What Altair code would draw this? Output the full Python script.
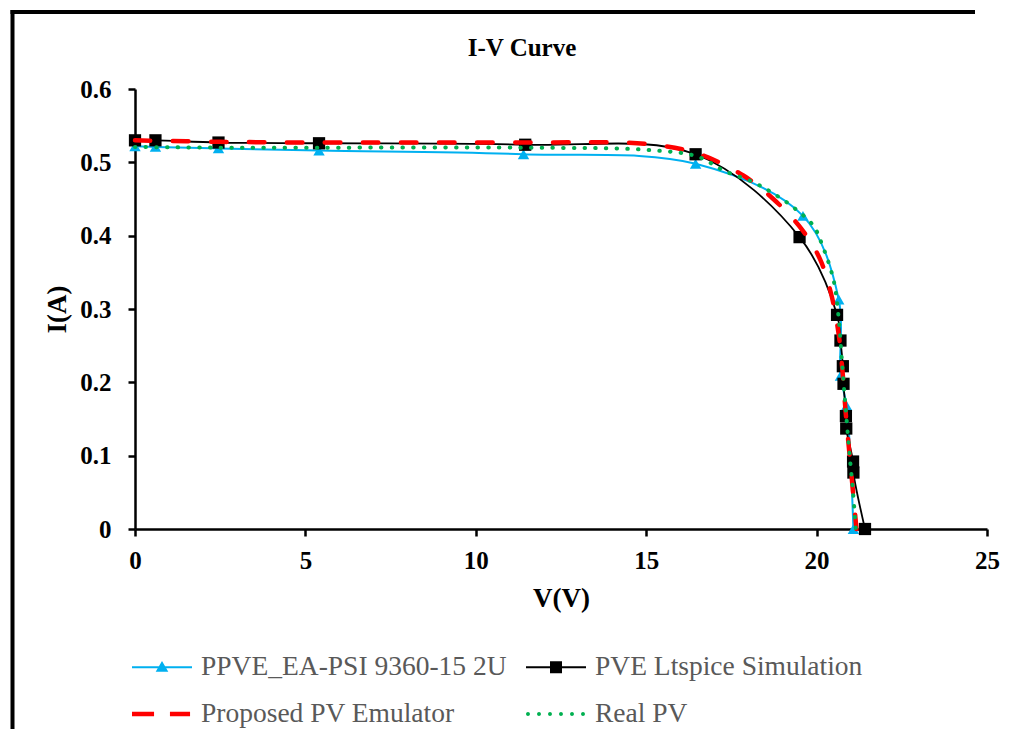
import altair as alt
import pandas as pd

# ---- series names ----
S_BLUE = "PPVE_EA-PSI 9360-15 2U"
S_BLACK = "PVE Ltspice Simulation"
S_RED = "Proposed PV Emulator"
S_GREEN = "Real PV"
series_names = [S_BLUE, S_BLACK, S_RED, S_GREEN]
series_colors = ["#00B0F0", "#000000", "#FF0000", "#00B050"]

# ---- data ----
blue_v = [0.0, 0.6, 2.45, 5.4, 11.4, 16.45, 19.6, 20.65, 20.7, 20.88, 21.08]
blue_i = [0.522, 0.521, 0.519, 0.516, 0.511, 0.498, 0.427, 0.313, 0.209, 0.168, 0.0]

black_v = [0.0, 0.6, 2.45, 5.4, 11.45, 16.45, 19.5, 20.6, 20.7, 20.77, 20.79, 20.86, 20.87, 21.07, 21.08, 21.42]
black_i = [0.530, 0.530, 0.527, 0.526, 0.524, 0.511, 0.398, 0.292, 0.257, 0.222, 0.198, 0.154, 0.137, 0.092, 0.077, 0.0]

red_v = [0.0, 2.5, 5.4, 11.4, 15.0, 16.5, 17.85, 18.73, 19.56, 20.1, 20.44, 20.65, 20.76, 20.86, 20.98, 21.08, 21.17]
red_i = [0.530, 0.528, 0.527, 0.527, 0.525, 0.512, 0.482, 0.450, 0.409, 0.368, 0.318, 0.265, 0.215, 0.155, 0.095, 0.045, 0.0]

green_v = [0.0, 2.5, 5.4, 11.4, 15.0, 16.5, 17.26, 18.14, 18.68, 19.31, 19.9, 20.1, 20.49, 20.64, 20.75, 20.86, 20.97, 21.07, 21.15]
green_i = [0.521, 0.520, 0.520, 0.520, 0.517, 0.508, 0.489, 0.473, 0.459, 0.439, 0.414, 0.395, 0.341, 0.291, 0.225, 0.160, 0.100, 0.050, 0.0]

x_ticks = [0, 5, 10, 15, 20, 25]
y_ticks = [0.0, 0.1, 0.2, 0.3, 0.4, 0.5, 0.6]


def series_df(name, v, i):
    return pd.DataFrame({"V": v, "I": i, "series": name, "idx": list(range(len(v)))})


df_blue = series_df(S_BLUE, blue_v, blue_i)
df_black = series_df(S_BLACK, black_v, black_i)
df_red = series_df(S_RED, red_v, red_i)
df_green = series_df(S_GREEN, green_v, green_i)
df_all = pd.concat([df_blue, df_black, df_red, df_green], ignore_index=True)

x_enc = alt.X(
    "V:Q",
    scale=alt.Scale(domain=[0, 25], nice=False, zero=False),
    axis=alt.Axis(values=x_ticks, title="V(V)", labelFlush=False, labelOverlap=False,
                  labelPadding=12, titlePadding=12),
)
y_enc = alt.Y(
    "I:Q",
    scale=alt.Scale(domain=[0, 0.6], nice=False),
    axis=alt.Axis(values=y_ticks, format=".1~f", title="I(A)", labelOverlap=False,
                  labelPadding=17, titlePadding=8),
)
order_enc = alt.Order("idx:Q")

# ---- legend symbols (line + marker drawn as custom symbol paths) ----
def dots_path(xs, r):
    parts = []
    for x in xs:
        parts.append(f"M{x - r},0A{r},{r},0,1,0,{x + r},0A{r},{r},0,1,0,{x - r},0Z")
    return "".join(parts)

legend_paths = [
    "M-1,-0.07H3V0.07H-1Z M1,-0.42L1.42,0.3L0.58,0.3Z",
    "M-1,-0.06H3V0.06H-1Z M0.6,-0.4H1.4V0.4H0.6Z",
    "M-1,-0.15H0.47V0.15H-1Z M1.53,-0.15H2.87V0.15H1.53Z",
    dots_path([-0.867, -0.133, 0.6, 1.333, 2.067, 2.8], 0.13),
]

leg = alt.Legend(
    title=None, orient="none", legendX=-3, legendY=563, columns=2, direction="horizontal",
    labelFont="Liberation Serif", labelFontSize=27.5, labelColor="#595959", labelLimit=0,
    labelOffset=39, symbolSize=900, symbolStrokeWidth=0, symbolOpacity=1,
    rowPadding=18, columnPadding=19, padding=0,
)

frame_df = pd.DataFrame({"k": [0]})
frame_left = alt.Chart(frame_df).mark_rule(color="black", strokeWidth=4).encode(
    x=alt.value(-122.5), y=alt.value(-79), x2=alt.value(-122.5), y2=alt.value(640)
)
frame_top = alt.Chart(frame_df).mark_rule(color="black", strokeWidth=4).encode(
    x=alt.value(-124.5), y=alt.value(-77), x2=alt.value(840), y2=alt.value(-77)
)

blue_line = alt.Chart(df_blue).mark_line(color="#00B0F0", strokeWidth=2, interpolate="catmull-rom").encode(
    x=x_enc, y=y_enc, order=order_enc)
blue_pts = alt.Chart(df_blue).mark_point(shape="triangle-up", filled=True, size=130, color="#00B0F0", opacity=1).encode(
    x=x_enc, y=y_enc)
black_line = alt.Chart(df_black).mark_line(color="black", strokeWidth=1.8, interpolate="catmull-rom").encode(
    x=x_enc, y=y_enc, order=order_enc)
black_pts = alt.Chart(df_black).mark_point(shape="square", filled=True, size=150, color="black", opacity=1).encode(
    x=x_enc, y=y_enc)
red_line = alt.Chart(df_red).mark_line(color="#FF0000", strokeWidth=4.5, strokeDash=[15.5, 22.5],
                                       strokeCap="round", interpolate="catmull-rom").encode(
    x=x_enc, y=y_enc, order=order_enc)
green_line = alt.Chart(df_green).mark_line(color="#00B050", strokeWidth=4, strokeDash=[0.5, 10.2],
                                           strokeCap="round", interpolate="catmull-rom").encode(
    x=x_enc, y=y_enc, order=order_enc)

legend_layer = alt.Chart(df_all).mark_point(filled=True, opacity=0).encode(
    x=x_enc, y=y_enc,
    color=alt.Color("series:N", scale=alt.Scale(domain=series_names, range=series_colors), legend=leg),
    shape=alt.Shape("series:N", scale=alt.Scale(domain=series_names, range=legend_paths), legend=leg),
)

chart = alt.layer(
    frame_left, frame_top, blue_line, blue_pts, black_line, black_pts, red_line, green_line, legend_layer
).properties(
    width=852, height=440,
    padding={"left": 0, "top": 0, "right": 0, "bottom": 0},
    title=alt.Title("I-V Curve", font="Liberation Serif", fontSize=25, fontWeight="bold",
                    color="black", offset=-73, baseline="alphabetic", dx=-39, anchor="middle"),
).configure_view(strokeWidth=0).configure_axis(
    grid=False, domainColor="black", domainWidth=2.5, tickColor="black", tickWidth=2.5, tickSize=7,
    labelFont="Liberation Serif", labelFontSize=25, labelFontWeight="bold", labelColor="black",
    titleFont="Liberation Serif", titleFontSize=27, titleFontWeight="bold", titleColor="black",
)

chart.save("out.html", embed_options={"renderer": "svg", "actions": False})
